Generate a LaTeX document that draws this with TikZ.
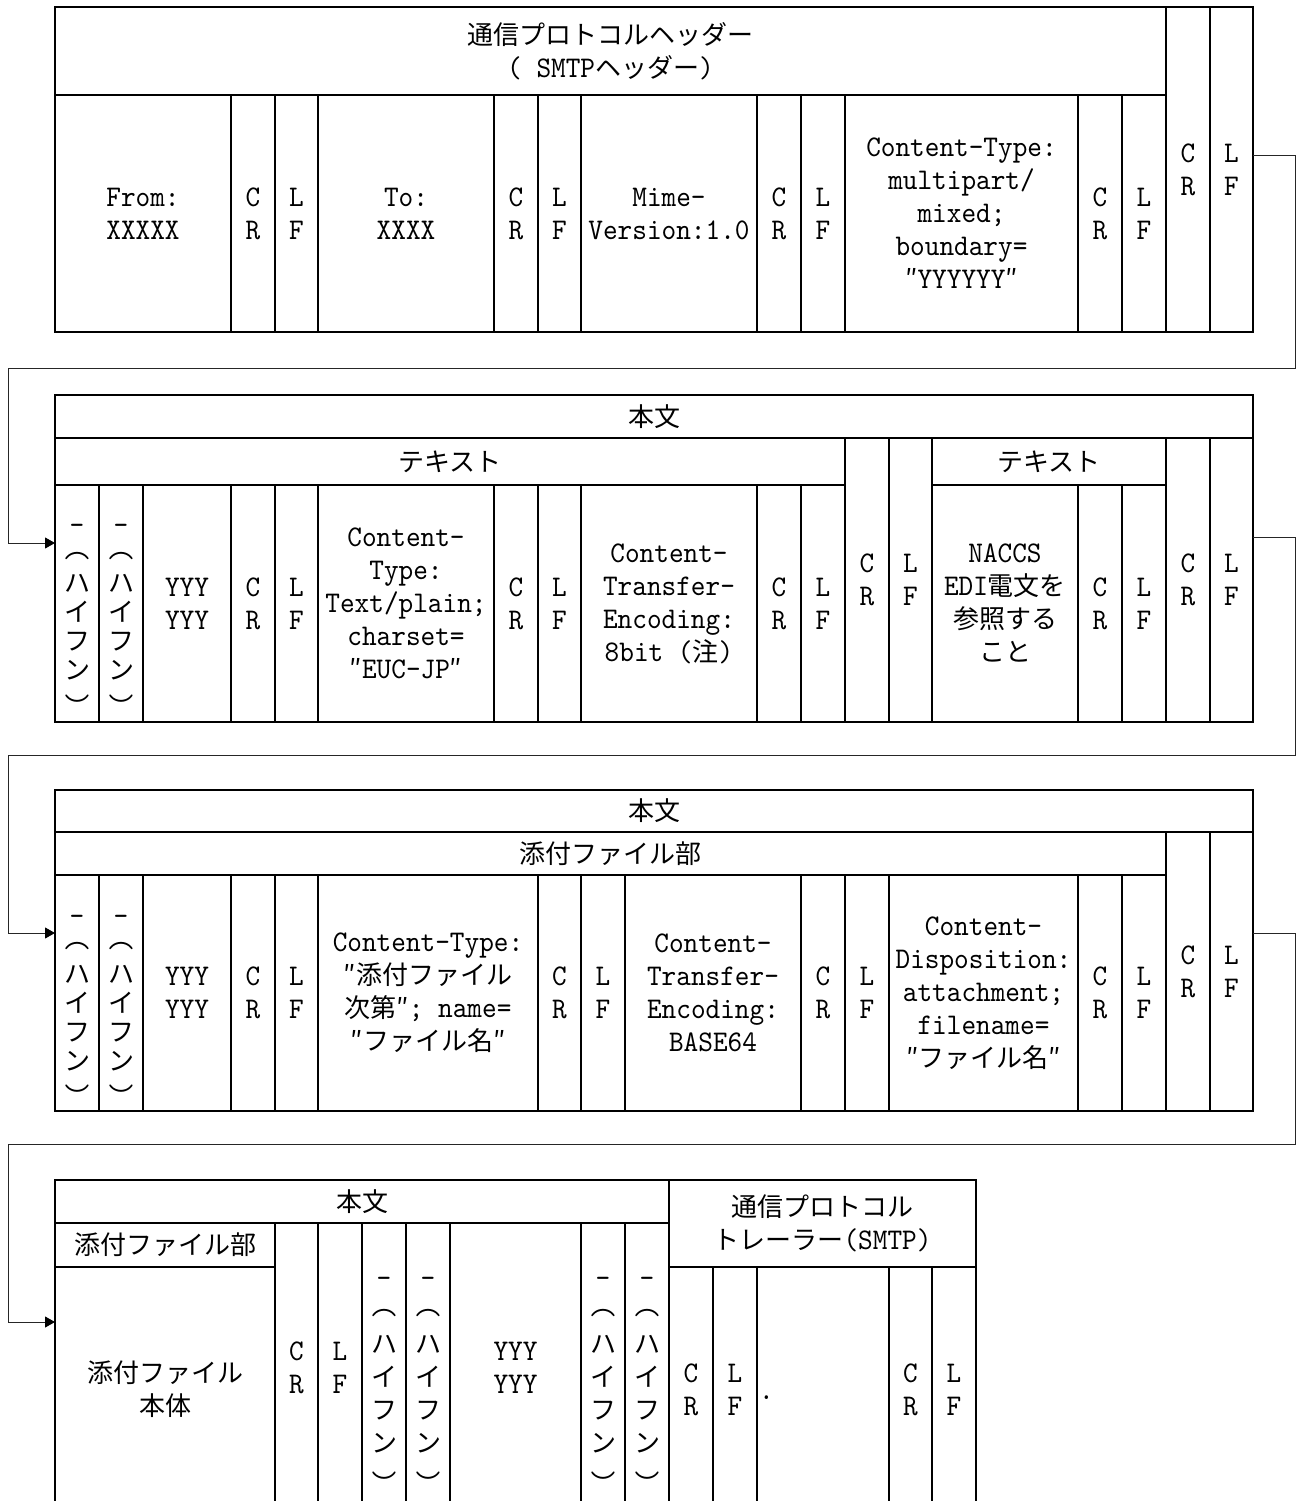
\documentclass[tikz,border=0pt]{standalone}
\usepackage{fontspec}
\usetikzlibrary{arrows.meta}
\setmainfont{lmmono10-regular.otf}[FakeStretch=0.93]
\newfontfamily\jpf{Noto Sans CJK JP}
\newcommand\J[1]{{\jpf\fontsize{26}{33}\selectfont #1}}
\tikzset{
  cellbox/.style={draw, line width=1.8pt, inner sep=0pt, outer sep=0pt, align=center, font=\fontsize{30}{33}\selectfont},
  stacktext/.style={inner sep=0pt, align=center},
  conn/.style={draw=black!85, line width=1pt},
  arr/.style={-{Triangle[length=10pt,width=11pt,color=black]}},
}
\newcommand\mycell[6]{\node[cellbox, minimum width={(#4-#2)*1pt}, minimum height={(#5-#3)*1pt}] (#1) at ({(#2+#4)/2},{(#3+#5)/2}) {#6};}
\newcommand\vlp{\rotatebox[origin=c]{-90}{(}}
\newcommand\vrp{\rotatebox[origin=c]{-90}{)}}
\newcommand\hyph{-\\\vlp\\\J{ハ}\\\J{イ}\\\J{フ}\\\J{ン}\\\vrp}
\newcommand\myhcell[7]{\mycell{#1}{#2}{#3}{#4}{#5}{}%
  \node[stacktext, font=\fontsize{30}{#7}\selectfont] (#1t) at ({(#2+#4)/2},{(#3+#5)/2+#6}) {\hyph};}
\begin{document}
\begin{tikzpicture}[x=1pt,y=-1pt]
\useasboundingbox (0,0) rectangle (1298,1501);
\clip (0,0) rectangle (1298,1501);
% ---------- row 1 ----------
\mycell{hA}{55}{7}{1166}{95}{\J{通信プロトコルヘッダー}\\( SMTP\J{ヘッダー})}
\mycell{hFrom}{55}{95}{231}{332}{From:\\XXXXX}
\mycell{hCR1}{231}{95}{275}{332}{C\\R}
\mycell{hLF1}{275}{95}{318}{332}{L\\F}
\mycell{hTo}{318}{95}{494}{332}{To:\\XXXX}
\mycell{hCR2}{494}{95}{538}{332}{C\\R}
\mycell{hLF2}{538}{95}{581}{332}{L\\F}
\mycell{hMime}{581}{95}{757}{332}{Mime-\\Version:1.0}
\mycell{hCR3}{757}{95}{801}{332}{C\\R}
\mycell{hLF3}{801}{95}{845}{332}{L\\F}
\mycell{hCT}{845}{95}{1078}{332}{Content-Type:\\multipart/\\mixed;\\boundary=\\\J{″}YYYYYY\J{″}}
\mycell{hCR4}{1078}{95}{1122}{332}{C\\R}
\mycell{hLF4}{1122}{95}{1166}{332}{L\\F}
\mycell{hCR5}{1166}{7}{1210}{332}{C\\R}
\mycell{hLF5}{1210}{7}{1253}{332}{L\\F}
% ---------- row 2 ----------
\mycell{bA}{55}{395}{1253}{438}{\J{本文}}
\mycell{bB}{55}{438}{845}{485}{\J{テキスト}}
\myhcell{bH1}{55}{485}{99}{722}{13}{29}
\myhcell{bH2}{99}{485}{143}{722}{13}{29}
\mycell{bY}{143}{485}{231}{722}{YYY\\YYY}
\mycell{bCR1}{231}{485}{275}{722}{C\\R}
\mycell{bLF1}{275}{485}{318}{722}{L\\F}
\mycell{bCT}{318}{485}{494}{722}{Content-\\Type:\\Text/plain;\\charset=\\\J{″}EUC-JP\J{″}}
\mycell{bCR2}{494}{485}{538}{722}{C\\R}
\mycell{bLF2}{538}{485}{581}{722}{L\\F}
\mycell{bCTE}{581}{485}{757}{722}{Content-\\Transfer-\\Encoding:\\8bit (\J{注})}
\mycell{bCR3}{757}{485}{801}{722}{C\\R}
\mycell{bLF3}{801}{485}{845}{722}{L\\F}
\mycell{bCR4}{845}{438}{889}{722}{C\\R}
\mycell{bLF4}{889}{438}{932}{722}{L\\F}
\mycell{bC}{932}{438}{1166}{485}{\J{テキスト}}
\mycell{bN}{932}{485}{1078}{722}{NACCS\\EDI\J{電文を}\\\J{参照する}\\\J{こと}}
\mycell{bCR5}{1078}{485}{1122}{722}{C\\R}
\mycell{bLF5}{1122}{485}{1166}{722}{L\\F}
\mycell{bCR6}{1166}{438}{1210}{722}{C\\R}
\mycell{bLF6}{1210}{438}{1253}{722}{L\\F}
% ---------- row 3 ----------
\mycell{cA}{55}{790}{1253}{832}{\J{本文}}
\mycell{cB}{55}{832}{1166}{875}{\J{添付ファイル部}}
\myhcell{cH1}{55}{875}{99}{1111}{14}{29}
\myhcell{cH2}{99}{875}{143}{1111}{14}{29}
\mycell{cY}{143}{875}{231}{1111}{YYY\\YYY}
\mycell{cCR1}{231}{875}{275}{1111}{C\\R}
\mycell{cLF1}{275}{875}{318}{1111}{L\\F}
\mycell{cCT}{318}{875}{538}{1111}{Content-Type:\\\J{″添付ファイル}\\\J{次第″}; name=\\\J{″ファイル名″}}
\mycell{cCR2}{538}{875}{581}{1111}{C\\R}
\mycell{cLF2}{581}{875}{625}{1111}{L\\F}
\mycell{cCTE}{625}{875}{801}{1111}{Content-\\Transfer-\\Encoding:\\BASE64}
\mycell{cCR3}{801}{875}{845}{1111}{C\\R}
\mycell{cLF3}{845}{875}{889}{1111}{L\\F}
\mycell{cD}{889}{875}{1078}{1111}{Content-\\Disposition:\\attachment;\\filename=\\\J{″ファイル名″}}
\mycell{cCR4}{1078}{875}{1122}{1111}{C\\R}
\mycell{cLF4}{1122}{875}{1166}{1111}{L\\F}
\mycell{cCR5}{1166}{832}{1210}{1111}{C\\R}
\mycell{cLF5}{1210}{832}{1253}{1111}{L\\F}
% ---------- row 4 ----------
\mycell{dA}{55}{1180}{669}{1223}{\J{本文}}
\mycell{dB}{55}{1223}{275}{1267}{\J{添付ファイル部}}
\mycell{dBody}{55}{1267}{275}{1512}{\J{添付ファイル}\\\J{本体}}
\mycell{dCR1}{275}{1223}{318}{1512}{C\\R}
\mycell{dLF1}{318}{1223}{362}{1512}{L\\F}
\myhcell{dH1}{362}{1223}{406}{1512}{14}{33}
\myhcell{dH2}{406}{1223}{450}{1512}{14}{33}
\mycell{dY}{450}{1223}{581}{1512}{YYY\\YYY}
\myhcell{dH3}{581}{1223}{625}{1512}{14}{33}
\myhcell{dH4}{625}{1223}{669}{1512}{14}{33}
\mycell{dT}{669}{1180}{976}{1267}{\J{通信プロトコル}\\\J{トレーラー}(SMTP)}
\mycell{dCR2}{669}{1267}{713}{1512}{C\\R}
\mycell{dLF2}{713}{1267}{757}{1512}{L\\F}
\mycell{dDot}{757}{1267}{889}{1512}{}
\node[inner sep=0pt, anchor=base west, font=\fontsize{30}{33}\selectfont] (dDott) at (759,1399) {.};
\mycell{dCR3}{889}{1267}{932}{1512}{C\\R}
\mycell{dLF3}{932}{1267}{976}{1512}{L\\F}
% ---------- connectors ----------
\coordinate (p1a) at (1295,155);
\coordinate (p1b) at (1295,368);
\coordinate (p1c) at (8,543);
\draw[conn,arr] (hLF5.east |- p1a) -- (p1a) -- (p1b) -| (p1c) -- (bH1.west |- p1c);
\coordinate (p2a) at (1295,537);
\coordinate (p2b) at (1295,755);
\coordinate (p2c) at (8,933);
\draw[conn,arr] (bLF6.east |- p2a) -- (p2a) -- (p2b) -| (p2c) -- (cH1.west |- p2c);
\coordinate (p3a) at (1295,933);
\coordinate (p3b) at (1295,1144);
\coordinate (p3c) at (8,1322);
\draw[conn,arr] (cLF5.east |- p3a) -- (p3a) -- (p3b) -| (p3c) -- (dBody.west |- p3c);
\end{tikzpicture}
\end{document}
